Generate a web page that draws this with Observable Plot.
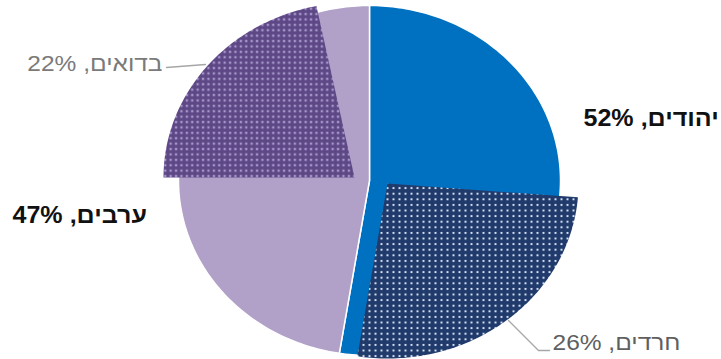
<!DOCTYPE html>
<html><head><meta charset="utf-8">
<script src="https://cdn.jsdelivr.net/npm/d3@7"></script>
<script src="https://cdn.jsdelivr.net/npm/@observablehq/plot@0.6"></script>
<style>html,body{margin:0;background:#fff}svg{display:block}</style>
</head><body><div id="chart"></div>
<script>
// ---- data ----
const groups = ["יהודים", "ערבים"];
const groupShares = [52, 47];
const subgroups = ["חרדים", "בדואים"];
const subgroupShares = [26, 22];

// ---- layout ----
const W = 721, H = 359, CX = 369, CY = 180, RX = 191, RY = 175;
const total = d3.sum(groupShares);
const deg = v => v / total * 360;

function arc(a0, a1, ox = 0, oy = 0) {
  const pts = [[ox, oy]];
  const n = Math.max(2, Math.ceil(Math.abs(a1 - a0)));
  for (let i = 0; i <= n; i++) {
    const t = (a0 + (a1 - a0) * i / n) * Math.PI / 180;
    pts.push([ox + Math.sin(t), oy + Math.cos(t)]);
  }
  pts.push([ox, oy]);
  return pts;
}
const ux = px => (px - CX) / RX;
const uy = py => (CY - py) / RY;

// base slices
const jewsEnd = deg(groupShares[0]);
const baseSlices = [
  {pts: arc(0, jewsEnd), fill: "#0070c0"},
  {pts: arc(jewsEnd, 360), fill: "#b1a0c7"}
];
// exploded sub-slices
const harediStart = jewsEnd - deg(subgroupShares[0]);
const bedouinStart = 270;
const subSlices = [
  {pts: arc(harediStart, jewsEnd, 18 / RX, -3 / RY), fill: "url(#pH)"},
  {pts: arc(bedouinStart, bedouinStart + deg(subgroupShares[1]) - 1.5, -15 / RX, 3 / RY), fill: "url(#pB)"}
];

const rtl = s => "\u202B" + s + "\u202C";
const labels = [
  {x: ux(583), y: uy(118), text: rtl(`${groups[0]}, ${groupShares[0]}%`), anchor: "start", bold: true, fill: "#111"},
  {x: ux(12), y: uy(215), text: rtl(`${groups[1]}, ${groupShares[1]}%`), anchor: "start", bold: true, fill: "#111"},
  {x: ux(552), y: uy(342), text: rtl(`${subgroups[0]}, ${subgroupShares[0]}%`), anchor: "start", bold: false, fill: "#5f5f5f"},
  {x: ux(162), y: uy(63), text: rtl(`${subgroups[1]}, ${subgroupShares[1]}%`), anchor: "end", bold: false, fill: "#7a7a7a"}
];
const leaders = [
  [[ux(508), uy(320)], [ux(538), uy(350)], [ux(549), uy(350)]],
  [[ux(166), uy(67)], [ux(205), uy(64)]]
];

const marks = [];
for (const s of baseSlices) marks.push(Plot.line(s.pts, {x: d => d[0], y: d => d[1], fill: s.fill, stroke: "white", strokeWidth: 1.5, curve: "linear-closed"}));
for (const s of subSlices) marks.push(Plot.line(s.pts, {x: d => d[0], y: d => d[1], fill: s.fill, stroke: "none", curve: "linear-closed"}));
for (const l of leaders) marks.push(Plot.line(l, {x: d => d[0], y: d => d[1], stroke: "#a6a6a6", strokeWidth: 1.3}));
for (const lab of labels) marks.push(Plot.text([lab], {
  x: "x", y: "y", text: "text", textAnchor: lab.anchor, lineAnchor: "middle",
  fontSize: lab.bold ? 23 : 22.5, fontWeight: lab.bold ? "bold" : "normal",
  fill: lab.fill, className: "lbl"
}));

const svg = Plot.plot({
  width: W, height: H, margin: 0,
  x: {domain: [ux(0), ux(W)], axis: null},
  y: {domain: [uy(H), uy(0)], axis: null},
  style: {fontFamily: "'Liberation Sans', Arial, sans-serif", background: "white"},
  marks
});

const defs = d3.select(svg).insert("defs", ":first-child");
const pH = defs.append("pattern").attr("id", "pH").attr("patternUnits", "userSpaceOnUse").attr("width", 6).attr("height", 5.6);
pH.append("rect").attr("width", 6).attr("height", 5.6).attr("fill", "#1f3a6b");
pH.append("rect").attr("x", 2).attr("y", 1.8).attr("width", 2).attr("height", 2).attr("fill", "#d5def0");
const pB = defs.append("pattern").attr("id", "pB").attr("patternUnits", "userSpaceOnUse").attr("width", 5.4).attr("height", 5.4);
pB.append("rect").attr("width", 5.4).attr("height", 5.4).attr("fill", "#5d4885");
pB.append("rect").attr("x", 1.6).attr("y", 1.6).attr("width", 2.3).attr("height", 2.3).attr("fill", "#a797cc");

// the reference picture is stretched horizontally; stretch label glyphs likewise
d3.select(svg).selectAll("text").each(function() {
  const t = this.getAttribute("transform");
  if (t) this.setAttribute("transform", t + " scale(1.09,1)");
});

document.getElementById("chart").append(svg);
</script>
</body></html>
